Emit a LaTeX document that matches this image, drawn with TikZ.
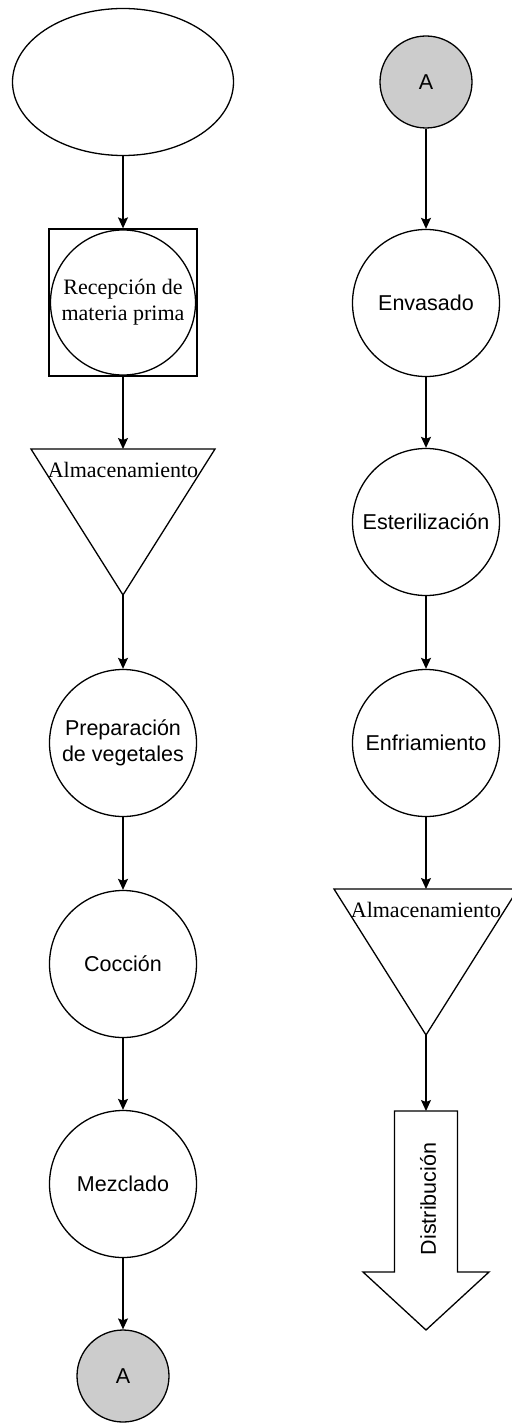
\documentclass[tikz,border=0pt]{standalone}
\usepackage{fontspec}
\setmainfont{Liberation Serif}
\setsansfont{Liberation Sans}
\usetikzlibrary{shapes.geometric,arrows.meta}
\tikzset{
  base/.style={draw=black, line width=1.3pt, inner sep=0pt, align=center,
    font=\sffamily\fontsize{21.5}{25.5}\selectfont},
  proc/.style={base, circle, minimum size=147pt},
  conn/.style={base, circle, minimum size=92pt, fill=black!20},
  serif/.style={font=\rmfamily\fontsize{22}{26}\selectfont, align=center, inner sep=0pt},
  flow/.style={line width=1.3pt, -{Stealth[length=11pt,width=10pt,inset=2pt]}},
  shapeline/.style={line width=1.3pt, line join=miter}
}
\begin{document}
\begin{tikzpicture}[x=1pt,y=-1pt]
\useasboundingbox (0,0) rectangle (511,1423);
% left column
\node[base, ellipse, minimum width=221pt, minimum height=147pt] (start) at (123,82) {};
\node[base, rectangle, minimum width=148pt, minimum height=147pt] (recbox) at (123,302.5) {};
\node[proc, minimum size=145pt, font=\rmfamily\fontsize{22}{26}\selectfont] (rec) at (123,302.5) {Recepción de\\materia prima};
\coordinate (t1top) at (123,449);
\coordinate (t1apex) at (123,595);
\draw[shapeline] (31,449) -- (215,449) -- (t1apex) -- cycle;
\node[serif] (alm1) at (123,470) {Almacenamiento};
\node[proc] (prep) at (123,743) {Preparación\\de vegetales};
\node[proc] (coc) at (123,964) {Cocción};
\node[proc] (mez) at (123,1184) {Mezclado};
\node[conn] (a1) at (123,1376) {A};
% right column
\node[conn] (a2) at (426,82) {A};
\node[proc] (env) at (426,303) {Envasado};
\node[proc] (est) at (426,522) {Esterilización};
\node[proc] (enf) at (426,743) {Enfriamiento};
\coordinate (t2top) at (426,889);
\coordinate (t2apex) at (426,1035);
\draw[shapeline] (334,889) -- (518,889) -- (t2apex) -- cycle;
\node[serif] (alm2) at (426,910) {Almacenamiento};
\coordinate (dtop) at (426,1111);
\draw[shapeline] (394.5,1111) -- (457.5,1111) -- (457.5,1272) -- (489,1272) -- (426,1330) -- (363,1272) -- (394.5,1272) -- cycle;
\node[font=\sffamily\fontsize{21.5}{25.5}\selectfont, rotate=90, inner sep=0pt] (dist) at (428,1199) {Distribución};
% connectors
\draw[flow] (start.south) -- (recbox.north);
\draw[flow] (recbox.south) -- (t1top);
\draw[flow] (t1apex) -- (prep.north);
\draw[flow] (prep.south) -- (coc.north);
\draw[flow] (coc.south) -- (mez.north);
\draw[flow] (mez.south) -- (a1.north);
\draw[flow] (a2.south) -- (env.north);
\draw[flow] (env.south) -- (est.north);
\draw[flow] (est.south) -- (enf.north);
\draw[flow] (enf.south) -- (t2top);
\draw[flow] (t2apex) -- (dtop);
\end{tikzpicture}
\end{document}
